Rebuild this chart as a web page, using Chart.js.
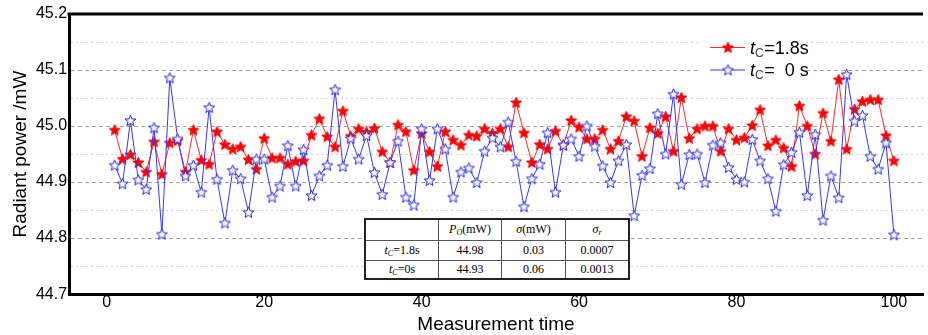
<html>
  <head>
    <script src="https://cdn.jsdelivr.net/npm/chart.js@4.4.0/dist/chart.umd.min.js"></script>
    <style>
      body { margin: 0; background: #fff; }
      #wrap { position: relative; width: 928px; height: 335px; }
      #stats {
        position: absolute; left: 364px; top: 218px;
        border-collapse: collapse; background: #fff;
        font-family: "Liberation Serif", serif; font-size: 12px; color: #000;
        border: 2px solid #222;
      }
      #stats td { border: 1px solid #555; text-align: center; padding: 0; height: 19px; }
      #stats i { font-style: italic; }
      #stats sub { font-size: 8px; vertical-align: -2px; }
    </style>
    <script>
      // measurement index 1..100
      var times = Array.from({ length: 100 }, (_, i) => i + 1)
      var power18 = [
        44.993, 44.941, 44.949, 44.935, 44.918, 44.972, 44.914, 44.970, 44.974, 44.918,
        44.993, 44.939, 44.932, 44.990, 44.967, 44.959, 44.963, 44.940, 44.923, 44.978,
        44.943, 44.943, 44.932, 44.937, 44.938, 44.984, 45.013, 44.981, 44.963, 45.027,
        44.982, 44.995, 44.989, 44.996, 44.954, 44.935, 45.002, 44.990, 44.921, 44.987,
        44.954, 44.928, 44.990, 44.975, 44.966, 44.984, 44.982, 44.995, 44.987, 44.995,
        44.963, 45.042, 44.988, 44.935, 44.967, 44.959, 44.991, 44.966, 45.010, 44.998,
        44.977, 44.977, 44.993, 44.959, 44.973, 45.017, 45.009, 44.946, 44.997, 44.987,
        45.017, 44.955, 45.051, 44.978, 44.995, 45.000, 45.000, 44.955, 44.995, 44.975,
        44.979, 45.001, 45.029, 44.965, 44.975, 44.961, 44.928, 45.036, 45.000, 44.950,
        45.023, 44.973, 45.083, 44.959, 45.030, 45.044, 45.047, 45.047, 44.983, 44.938
      ]
      var power0 = [
        44.930, 44.897, 45.010, 44.904, 44.887, 44.997, 44.807, 45.086, 44.977, 44.911,
        44.930, 44.882, 45.033, 44.905, 44.827, 44.921, 44.906, 44.846, 44.941, 44.941,
        44.873, 44.893, 44.965, 44.893, 44.958, 44.876, 44.911, 44.930, 45.065, 44.928,
        44.978, 44.941, 44.983, 44.917, 44.878, 44.935, 44.973, 44.873, 44.859, 44.995,
        44.903, 44.995, 44.959, 44.873, 44.918, 44.925, 44.899, 44.955, 44.979, 44.963,
        45.007, 44.937, 44.856, 44.906, 44.932, 44.988, 44.882, 44.966, 44.977, 44.946,
        45.000, 44.964, 44.929, 44.899, 44.938, 44.967, 44.840, 44.912, 44.924, 45.022,
        44.950, 45.057, 44.896, 44.949, 44.950, 44.899, 44.966, 44.970, 44.926, 44.905,
        44.900, 44.976, 44.938, 44.906, 44.848, 44.931, 44.953, 44.989, 44.876, 44.985,
        44.832, 44.911, 44.872, 45.092, 45.009, 45.019, 44.946, 44.923, 44.970, 44.806
      ]
      var seriesNames = ['=1.8s', '=  0 s']
      var xTicks = [0, 20, 40, 60, 80, 100]
      var yTicks = [44.7, 44.75, 44.8, 44.85, 44.9, 44.95, 45.0, 45.05, 45.1, 45.15, 45.2]

      function makeStar(fill, stroke) {
        var c = document.createElement('canvas')
        c.width = 13; c.height = 13
        var g = c.getContext('2d')
        g.beginPath()
        for (var k = 0; k < 10; k++) {
          var r = k % 2 ? 2.5 : 5.8
          var a = -Math.PI / 2 + k * Math.PI / 5
          g.lineTo(6.5 + r * Math.cos(a), 6.9 + r * Math.sin(a))
        }
        g.closePath()
        g.fillStyle = fill; g.fill()
        g.strokeStyle = stroke; g.lineWidth = 1; g.stroke()
        return c
      }

      var extras = {
        id: 'extras',
        afterDatasetsDraw(chart) {
          const { ctx, chartArea } = chart
          ctx.save()
          // top frame line
          ctx.strokeStyle = '#000'; ctx.lineWidth = 3
          ctx.beginPath(); ctx.moveTo(chartArea.left - 1.5, chartArea.top); ctx.lineTo(chartArea.right, chartArea.top); ctx.stroke()
          // legend
          ctx.fillStyle = '#fff'
          ctx.fillRect(698, 34, 108, 48)
          chart.data.datasets.forEach((ds, i) => {
            const y = 47.5 + i * 22.5
            ctx.strokeStyle = ds.borderColor; ctx.lineWidth = 1
            ctx.beginPath(); ctx.moveTo(710, y); ctx.lineTo(745, y); ctx.stroke()
            ctx.drawImage(ds.pointStyle, 728 - 6.5, y - 6.5)
            let x = 750
            ctx.fillStyle = '#000'
            ctx.font = 'italic 18px "Liberation Sans"'
            ctx.fillText('t', x, y + 6)
            x += ctx.measureText('t').width
            ctx.fillStyle = '#445'
            ctx.font = '12px "Liberation Sans"'
            ctx.fillText('C', x, y + 9)
            x += ctx.measureText('C').width + 0.5
            ctx.fillStyle = '#000'
            ctx.font = '18px "Liberation Sans"'
            ctx.fillText(seriesNames[i], x, y + 6)
          })
          ctx.restore()
        }
      }

      function isMajor(v) { return Math.round(v * 100) % 10 === 0 }

      function init() {
        Chart.defaults.font.family = '"Liberation Sans", Arial, sans-serif'
        Chart.defaults.color = '#000'
        new Chart(document.getElementById('chart'), {
          type: 'line',
          data: {
            datasets: [
              {
                label: 't_C=1.8s',
                data: times.map((t, i) => ({ x: t, y: power18[i] })),
                borderColor: '#ff2a2a',
                borderWidth: 1,
                pointStyle: makeStar('#ff0000', '#ff0000'),
                tension: 0,
                order: 2,
              },
              {
                label: 't_C=0s',
                data: times.map((t, i) => ({ x: t, y: power0[i] })),
                borderColor: '#3535ff',
                borderWidth: 1,
                pointStyle: makeStar('#ffffff', '#2020ff'),
                tension: 0,
                order: 1,
              },
            ],
          },
          options: {
            responsive: false,
            animation: false,
            layout: { padding: { left: 7, top: 14, right: 0, bottom: 0 } },
            plugins: { legend: { display: false }, tooltip: { enabled: false } },
            scales: {
              x: {
                type: 'linear',
                min: -4.8,
                max: 103.7,
                afterBuildTicks: (s) => { s.ticks = xTicks.map((v) => ({ value: v })) },
                grid: { display: false, drawTicks: false },
                border: { color: '#000', width: 3 },
                ticks: { font: { size: 16, lineHeight: 1 }, padding: 0, maxRotation: 0 },
                title: { display: true, text: 'Measurement time', font: { size: 19, lineHeight: 1.1 }, padding: { top: 4, bottom: 0 } },
              },
              y: {
                type: 'linear',
                min: 44.7,
                max: 45.2,
                afterBuildTicks: (s) => { s.ticks = yTicks.map((v) => ({ value: v })) },
                grid: {
                  drawTicks: false,
                  color: (c) => (c.tick && isMajor(c.tick.value) ? '#a8a8a8' : '#cfcfcf'),
                },
                border: {
                  color: '#000', width: 3,
                  dash: (c) => (c.tick && isMajor(c.tick.value) ? [4, 3] : [2, 3]),
                },
                ticks: {
                  font: { size: 16 },
                  padding: 2,
                  callback: (v) => (isMajor(v) ? v.toFixed(1) : ''),
                },
                title: { display: true, text: 'Radiant power /mW', font: { size: 19, lineHeight: 1.1 }, padding: { top: 3, bottom: 3 } },
              },
            },
          },
          plugins: [extras],
        })
      }
    </script>
  </head>
  <body onload="init()">
    <div id="wrap">
      <canvas id="chart" width="928" height="335"></canvas>
      <table id="stats">
        <tr style="height:21px">
          <td style="width:72px"></td>
          <td style="width:62px"><i>P</i><sub><i>O</i></sub>(mW)</td>
          <td style="width:63px"><i>σ</i>(mW)</td>
          <td style="width:62px"><i>σ</i><sub><i>r</i></sub></td>
        </tr>
        <tr style="height:20px">
          <td><i>t</i><sub><i>C</i></sub>=1.8s</td>
          <td>44.98</td>
          <td>0.03</td>
          <td>0.0007</td>
        </tr>
        <tr style="height:19px">
          <td><i>t</i><sub><i>C</i></sub>=0s</td>
          <td>44.93</td>
          <td>0.06</td>
          <td>0.0013</td>
        </tr>
      </table>
    </div>
  </body>
</html>
